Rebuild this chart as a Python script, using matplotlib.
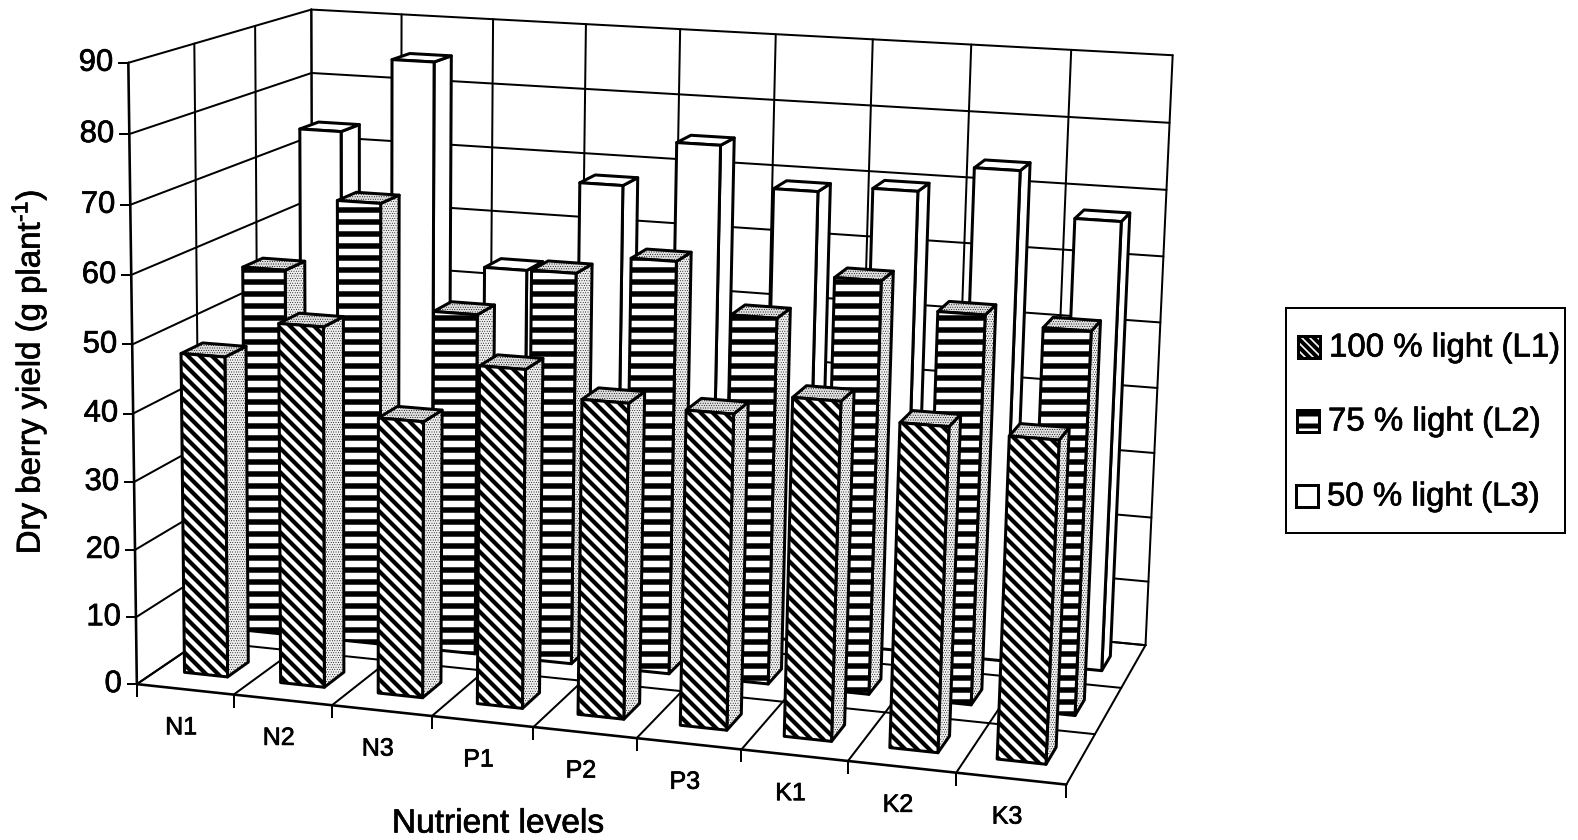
#!/usr/bin/env python3
"""
Dry berry yield vs nutrient levels, 3D clustered columns under three light regimes.
"""
import numpy as np
import matplotlib
matplotlib.use("Agg")
import matplotlib.pyplot as plt
import matplotlib.patheffects as pe
from matplotlib.patches import Polygon, Rectangle

# === DATA ===
nutrients = ["N1", "N2", "N3", "P1", "P2", "P3", "K1", "K2", "K3"]
light_labels = ["100 % light (L1)", "75 % light (L2)", "50 % light (L3)"]
l1_yield = [47.5, 53, 40.5, 49.2, 45.6, 45.3, 48.3, 46, 45.4]
l2_yield = [56, 67, 51.5, 58.7, 61.5, 54.3, 60.8, 57, 55.8]
l3_yield = [73.5, 85, 54, 68, 75, 69, 70, 74, 67.5]
z_ticks = list(range(0, 100, 10))

# === CONFIG ===
W, H = 1578, 840
BAR_W = 0.45
BAR_D = 0.34
LW = 3.0
INK = [pe.withStroke(linewidth=0.7, foreground="black")]

plt.rcParams["font.family"] = ["Liberation Sans", "DejaVu Sans"]
plt.rcParams["mathtext.fontset"] = "custom"
plt.rcParams["mathtext.rm"] = "Liberation Sans"
plt.rcParams["mathtext.default"] = "regular"

# perspective camera solved from the corners of the chart box, (x, depth, z) -> pixels
anchors = [
    (0, 0, 0, 137, 683), (9, 0, 0, 1068, 787), (1, 0, 0, 235, 693),
    (0, 3, 0, 312, 567), (9, 3, 0, 1147, 644), (9, 1, 0, 1093, 735),
    (9, 2, 0, 1120, 687), (0, 0, 90, 127, 63), (0, 3, 90, 312, 9),
    (9, 3, 90, 1173, 57), (9, 3, 50, 1160, 320), (0, 3, 80, 312, 73),
]
rows, rhs = [], []
for x, y, z, u, v in anchors:
    rows.append([x, y, z, 1, 0, 0, 0, 0, -u * x, -u * y, -u * z])
    rhs.append(u)
    rows.append([0, 0, 0, 0, x, y, z, 1, -v * x, -v * y, -v * z])
    rhs.append(v)
cam = np.append(np.linalg.lstsq(np.array(rows, float), np.array(rhs, float), rcond=None)[0], 1).reshape(3, 4)


def proj(x, y, z):
    u, v, w = cam @ np.array([x, y, z, 1.0])
    return u / w, v / w


def seg(ax, a, b, lw=2.0, zo=1):
    p, q = proj(*a), proj(*b)
    ax.plot([p[0], q[0]], [p[1], q[1]], color="black", lw=lw, zorder=zo, solid_capstyle="round")


def face(ax, pts, zo, fc="white", hatch=None, hlw=None):
    patch = Polygon([proj(*p) for p in pts], closed=True, facecolor=fc, edgecolor="black",
                    lw=LW, hatch=hatch, zorder=zo, joinstyle="round")
    if hatch:
        patch.set_hatch_linewidth(hlw)
    ax.add_patch(patch)


def column(ax, i, row, val, zo, hatch, hlw, shaded):
    x0, x1 = i + 0.5 - BAR_W / 2, i + 0.5 + BAR_W / 2
    y0, y1 = row + 0.5 - BAR_D / 2, row + 0.5 + BAR_D / 2
    side = dict(fc="#eeeeee", hatch=".....", hlw=0.45) if shaded else {}
    top = dict(fc="#e0e0e0", hatch=".....", hlw=0.5) if shaded else {}
    face(ax, [(x1, y0, 0), (x1, y1, 0), (x1, y1, val), (x1, y0, val)], zo, **side)
    face(ax, [(x0, y0, val), (x1, y0, val), (x1, y1, val), (x0, y1, val)], zo, **top)
    face(ax, [(x0, y0, 0), (x1, y0, 0), (x1, y0, val), (x0, y0, val)], zo, hatch=hatch, hlw=hlw)


# hatch tiles scale with dpi, at 72 one "-" gives a 12 px period
fig = plt.figure(figsize=(W / 72, H / 72), dpi=72)
ax = fig.add_axes([0, 0, 1, 1])
ax.set_xlim(0, W)
ax.set_ylim(H, 0)
ax.axis("off")

# walls and floor grid
for z in z_ticks:
    seg(ax, (0, 0, z), (0, 3, z))
    seg(ax, (0, 3, z), (9, 3, z))
    p = proj(0, 0, z)
    ax.plot([p[0] - 9, p[0]], [p[1], p[1]], color="black", lw=2.0, zorder=1)
    ax.text(p[0] - 15, p[1], str(z), ha="right", va="center", fontsize=31, path_effects=INK)
for k in range(1, 4):
    seg(ax, (0, k, 0), (0, k, 90))
    seg(ax, (0, k, 0), (9, k, 0))
for k in range(0, 10):
    seg(ax, (k, 3, 0), (k, 3, 90))
    seg(ax, (k, 0, 0), (k, 3, 0))
    p = proj(k, 0, 0)
    ax.plot([p[0], p[0]], [p[1], p[1] + 12], color="black", lw=2.0, zorder=1)
seg(ax, (0, 0, 0), (0, 0, 90), lw=2.6)
seg(ax, (0, 0, 0), (9, 0, 0), lw=2.6)

# columns, back row first and left to right inside each row
series = [
    (2, l3_yield, None, 0, False),
    (1, l2_yield, "-", 5.5, True),
    (0, l1_yield, "\\\\", 4.2, True),
]
zo = 3
for row, vals, hatch, hlw, shaded in series:
    for i, val in enumerate(vals):
        column(ax, i, row, val, zo, hatch, hlw, shaded)
        zo += 1

# axis text
for i, name in enumerate(nutrients):
    p = proj(i + 0.5, 0, 0)
    ax.text(p[0] - 4, p[1] + 38, name, ha="center", va="center", fontsize=25, path_effects=INK)
ax.text(498, 824, "Nutrient levels", ha="center", va="center", fontsize=33.5, path_effects=INK)
ax.text(29, 372, r"Dry berry yield (g plant$^{\text{-}1}$)", rotation=90, ha="center", va="center",
        fontsize=33, path_effects=INK)

# legend box
ax.add_patch(Rectangle((1286, 308), 279, 225, fc="white", ec="black", lw=2.0, zorder=100))
keys = [("\\\\\\", 4.0), ("-", 5.0), (None, 0)]
ys = [347, 421, 496]
xs = [1298, 1297, 1296]
for label, (hatch, hlw), ky, kx in zip(light_labels, keys, ys, xs):
    patch = Rectangle((kx, ky - 11), 22, 22, fc="white", ec="black", lw=3.0, hatch=hatch, zorder=101)
    if hatch:
        patch.set_hatch_linewidth(hlw)
    ax.add_patch(patch)
    ax.text(kx + 31, ky + 1, label, ha="left", va="center", fontsize=33, zorder=101, path_effects=INK)

fig.savefig("out.png", dpi=72, facecolor="white")
plt.close(fig)
